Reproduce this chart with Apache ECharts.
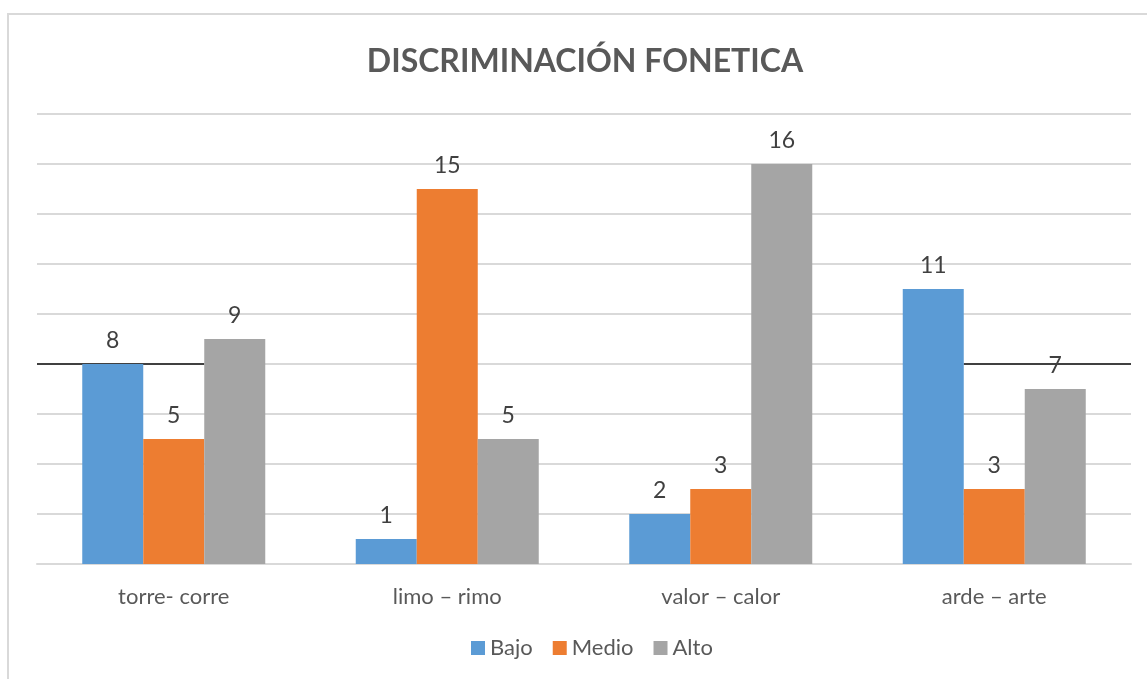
<!DOCTYPE html>
<html>
<head>
<meta charset="utf-8">
<style>
  html, body { margin: 0; padding: 0; background: #ffffff; }
  #chart { width: 1147px; height: 679px; }
</style>
<script src="https://cdn.jsdelivr.net/npm/echarts@6/dist/echarts.min.js"></script>
</head>
<body>
<div id="chart"></div>
<script>
// Word pairs used in the phonetic discrimination test
const categories = ['torre- corre', 'limo – rimo', 'valor – calor', 'arde – arte'];

// Number of students per level
const bajo  = [8, 1, 2, 11];
const medio = [5, 15, 3, 3];
const alto  = [9, 5, 16, 7];

const seriesNames = ['Bajo', 'Medio', 'Alto'];
const colors = ['#5B9BD5', '#ED7D31', '#A5A5A5'];

const FONT = 'Lato, "Open Sans", sans-serif';
const TEXT = '#595959';
const GRID = { left: 37, right: 16, top: 114, bottom: 115 };

const chart = echarts.init(document.getElementById('chart'), null, { renderer: 'canvas' });

function barSeries(name, data, color) {
  return {
    name: name,
    type: 'bar',
    data: data,
    barWidth: 61,
    barGap: '0%',
    itemStyle: { color: color },
    label: {
      show: true,
      position: 'top',
      distance: 12,
      color: '#404040',
      fontFamily: FONT,
      fontSize: 23
    },
    emphasis: { disabled: true }
  };
}

chart.setOption({
  animation: false,
  backgroundColor: '#ffffff',
  title: {
    text: 'DISCRIMINACIÓN FONETICA',
    left: 580,
    top: 41,
    textAlign: 'center',
    textStyle: {
      color: TEXT,
      fontFamily: FONT,
      fontWeight: 'bold',
      fontSize: 32
    }
  },
  legend: {
    data: seriesNames,
    bottom: 15,
    left: 466,
    itemWidth: 14,
    itemHeight: 14,
    itemGap: 20,
    icon: 'rect',
    textStyle: { color: TEXT, fontFamily: FONT, fontSize: 22 }
  },
  grid: { left: GRID.left, right: GRID.right, top: GRID.top, bottom: GRID.bottom, containLabel: false },
  xAxis: {
    type: 'category',
    data: categories,
    axisLine: { lineStyle: { color: '#d9d9d9', width: 2 } },
    axisTick: { show: false },
    axisLabel: { color: TEXT, fontFamily: FONT, fontSize: 22, margin: 22 }
  },
  yAxis: {
    type: 'value',
    min: 0,
    max: 18,
    interval: 2,
    axisLabel: { show: false },
    axisLine: { show: false },
    axisTick: { show: false },
    splitLine: { lineStyle: { color: '#d9d9d9', width: 2 } }
  },
  series: [
    barSeries(seriesNames[0], bajo, colors[0]),
    barSeries(seriesNames[1], medio, colors[1]),
    barSeries(seriesNames[2], alto, colors[2])
  ]
});

// Outer frame and the dark rule across the value-8 gridline at both ends
const y8 = chart.convertToPixel({ yAxisIndex: 0 }, 8);
const firstAltoBar = chart.getModel().getSeriesByIndex(2).getData().getItemLayout(0);
const lastBajoBar = chart.getModel().getSeriesByIndex(0).getData().getItemLayout(3);
const plotLeft = GRID.left;
const plotRight = chart.getWidth() - GRID.right;

chart.setOption({
  graphic: [
    {
      type: 'rect',
      shape: { x: 8, y: 14, width: 1300, height: 800 },
      style: { fill: null, stroke: '#d9d9d9', lineWidth: 2 },
      silent: true,
      z: -1
    },
    {
      type: 'line',
      shape: { x1: plotLeft, y1: y8, x2: firstAltoBar.x, y2: y8 },
      style: { stroke: '#404040', lineWidth: 2 },
      silent: true,
      z: 1
    },
    {
      type: 'line',
      shape: { x1: lastBajoBar.x + lastBajoBar.width, y1: y8, x2: plotRight, y2: y8 },
      style: { stroke: '#404040', lineWidth: 2 },
      silent: true,
      z: 1
    }
  ]
});
</script>
</body>
</html>
